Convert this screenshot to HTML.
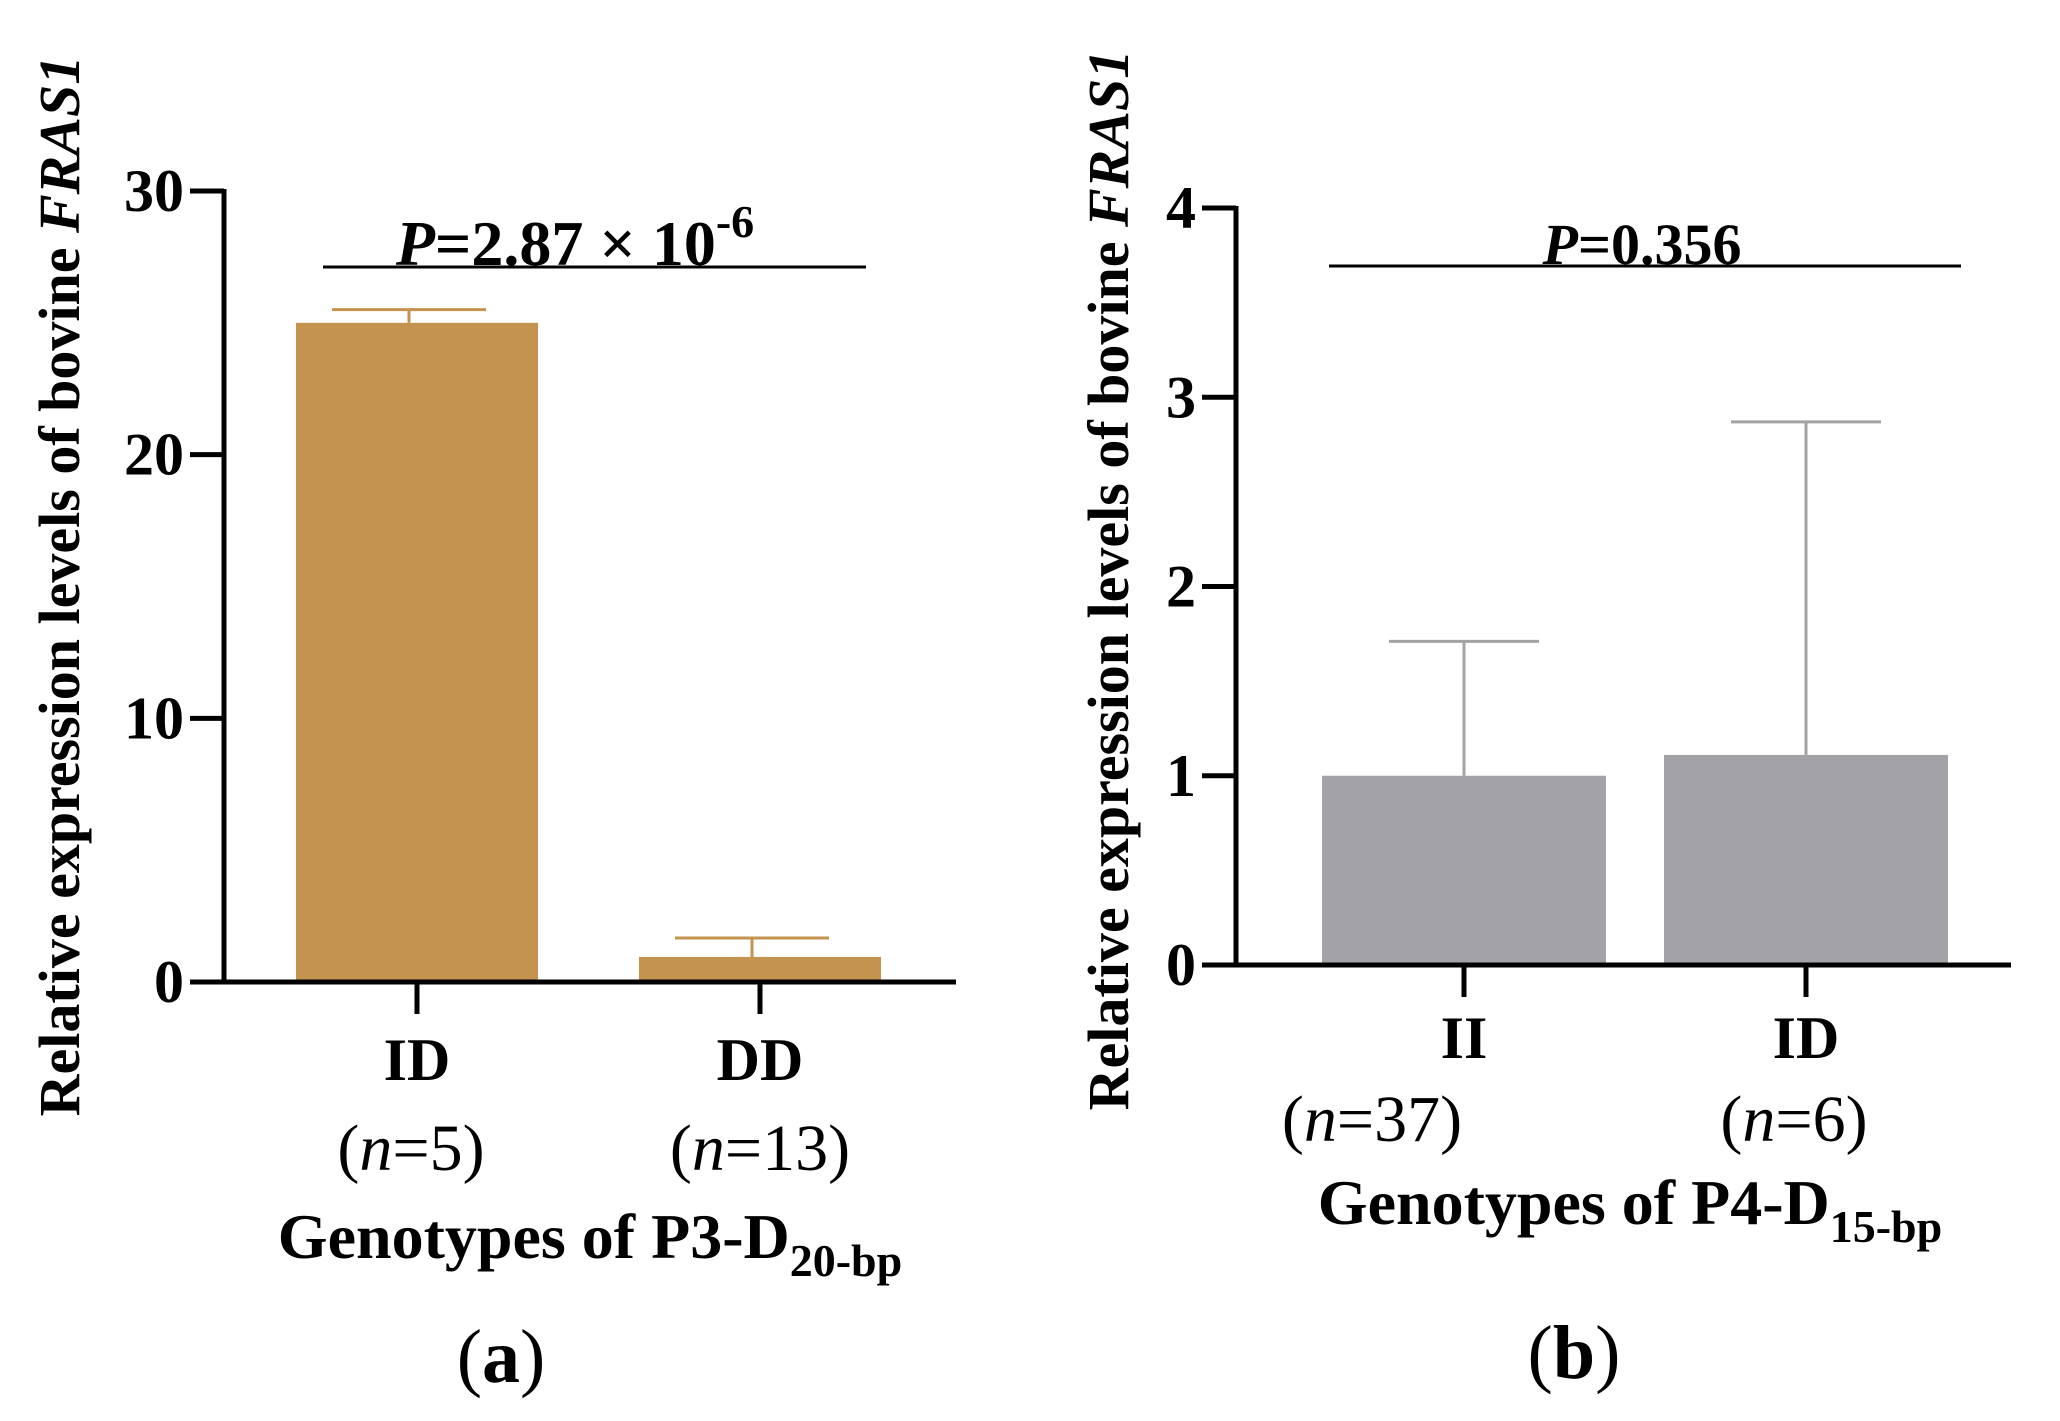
<!DOCTYPE html>
<html><head><meta charset="utf-8"><style>
html,body{margin:0;padding:0;background:#fff;}
svg{display:block;font-family:"Liberation Serif",serif;}
</style></head><body>
<svg id="fig" width="2060" height="1421" viewBox="0 0 2060 1421" xmlns="http://www.w3.org/2000/svg"></svg>
<script>
const catsA = ["ID","DD"];
const nA = ["5","13"];
const valsA = [25.0, 0.95];
const errA = [25.5, 1.67];
const ticksA = [0,10,20,30];
const catsB = ["II","ID"];
const nB = ["37","6"];
const valsB = [1.0, 1.11];
const errB = [1.71, 2.87];
const ticksB = [0,1,2,3,4];

const NS="http://www.w3.org/2000/svg";
const svg=document.getElementById('fig');
function el(tag,attrs,parent,text){const e=document.createElementNS(NS,tag);for(const k in attrs)e.setAttribute(k,attrs[k]);if(text!==undefined)e.textContent=text;(parent||svg).appendChild(e);return e;}

function panel(cfg){
  const g=el('g',{});
  
  
  const y=v=>cfg.y0-(v/cfg.ymax)*(cfg.y0-cfg.yTop);
  cfg.vals.forEach((v,i)=>{
    const cx=cfg.xs[i];
    const b=el('rect',{x:cx-cfg.bw/2,y:y(v),width:cfg.bw,height:cfg.y0-y(v),fill:cfg.fill},g);
    
    
    const ex=cx+cfg.eoff;
    const e1=el('line',{x1:ex,x2:ex,y1:y(v),y2:y(cfg.err[i]),stroke:cfg.estroke,'stroke-width':3},g);
    
    
    const e2=el('line',{x1:ex-cfg.cw[i]/2,x2:ex+cfg.cw[i]/2,y1:y(cfg.err[i]),y2:y(cfg.err[i]),stroke:cfg.estroke,'stroke-width':3},g);
    
    
  });
  const ya=el('line',{x1:cfg.x0,x2:cfg.x0,y1:cfg.yTop-2,y2:cfg.y0+2,stroke:'#000','stroke-width':5},g);
  
  
  const xa=el('line',{x1:cfg.x0-2,x2:cfg.xEnd,y1:cfg.y0,y2:cfg.y0,stroke:'#000','stroke-width':5},g);
  
  
  cfg.ticks.forEach(t=>{
    el('line',{x1:cfg.x0-34,x2:cfg.x0,y1:y(t),y2:y(t),stroke:'#000','stroke-width':5},g);
    const tl=el('text',{x:cfg.x0-40,y:y(t)+20,'text-anchor':'end','font-size':60,'font-weight':'bold'},g,String(t));
    
    
  });
  cfg.cats.forEach((c,i)=>{
    const cx=cfg.xs[i];
    el('line',{x1:cx,x2:cx,y1:cfg.y0,y2:cfg.y0+32,stroke:'#000','stroke-width':5},g);
    const cl=el('text',{x:cx,y:cfg.catY,'text-anchor':'middle','font-size':60,'font-weight':'bold'},g,c);
    
    
    const nl=el('text',{x:cfg.nX[i],y:cfg.nY,'text-anchor':'middle','font-size':66},g);
    
    
    el('tspan',{},nl,'(');el('tspan',{'font-style':'italic'},nl,'n');el('tspan',{},nl,'='+cfg.n[i]+')');
  });
  const pl=el('line',{x1:cfg.pX1,x2:cfg.pX2,y1:cfg.pY,y2:cfg.pY,stroke:'#000','stroke-width':3},g);
  
  
  const pt=el('text',{x:cfg.pTX,y:cfg.pY-2,'text-anchor':'middle','font-size':cfg.pSize,'font-weight':'bold'},g);
  
  
  el('tspan',{'font-style':'italic'},pt,'P');el('tspan',{},pt,cfg.pText);
  if(cfg.pSup){el('tspan',{'font-size':46,dy:-28},pt,cfg.pSup);}
  const yt=el('text',{transform:`translate(${cfg.ytX},${cfg.ytY}) rotate(-90)`,'text-anchor':'middle','font-size':58,'font-weight':'bold'},g);
  
  
  el('tspan',{},yt,'Relative expression levels of bovine ');el('tspan',{'font-style':'italic'},yt,'FRAS1');
  const xt=el('text',{x:cfg.xtX,y:cfg.xtY,'text-anchor':'middle','font-size':64,'font-weight':'bold'},g);
  
  
  el('tspan',{},xt,'Genotypes of '+cfg.loc+'-D');el('tspan',{'font-size':46,dy:18},xt,cfg.sub);
  const pn=el('text',{x:cfg.lbX,y:cfg.lbY,'text-anchor':'middle','font-size':76},g);
  
  
  el('tspan',{},pn,'(');el('tspan',{'font-weight':'bold'},pn,cfg.label);el('tspan',{},pn,')');
}

panel({name:'panel-a',cats:catsA,n:nA,vals:valsA,err:errA,ticks:ticksA,ymax:30,
  x0:224,xEnd:956,y0:982,yTop:191,xs:[417,760],bw:242,eoff:-8,cw:[154,154],
  fill:'#c4934f',estroke:'#c4934f',catY:1080,nY:1170,nX:[411,760],
  pX1:323,pX2:866,pY:267,pTX:575,pSize:64,pText:'=2.87 × 10',pSup:'-6',
  ytX:79,ytY:586,xtX:590,xtY:1258,loc:'P3',sub:'20-bp',lbX:501,lbY:1382,label:'a'});
panel({name:'panel-b',cats:catsB,n:nB,vals:valsB,err:errB,ticks:ticksB,ymax:4,
  x0:1236,xEnd:2011,y0:965,yTop:208,xs:[1464,1806],bw:284,eoff:0,cw:[150,150],
  fill:'#a3a2a6',estroke:'#a3a3a3',catY:1058,nY:1141,nX:[1372,1794],
  pX1:1329,pX2:1961,pY:266,pTX:1642,pSize:58,pText:'=0.356',pSup:null,
  ytX:1128,ytY:580,xtX:1630,xtY:1224,loc:'P4',sub:'15-bp',lbX:1574,lbY:1378,label:'b'});
</script>
</body></html>
